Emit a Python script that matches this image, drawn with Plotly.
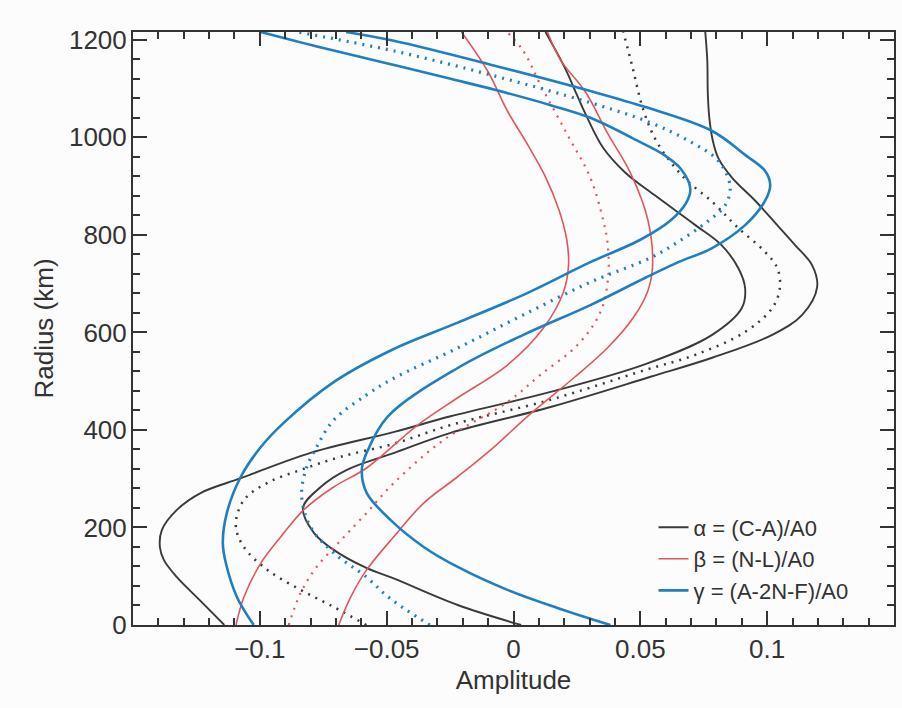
import plotly.graph_objects as go

# ---------------- data ----------------
# alpha = (C-A)/A0 : two bounding curves (solid) and mean (dotted)
alpha_a_x = [-0.114, -0.1235, -0.1327, -0.1378, -0.1394, -0.1386, -0.1327, -0.1232, -0.1075, -0.080, -0.047,
             -0.0248, 0.0146, 0.052, 0.0783, 0.090, 0.0913, 0.0886, 0.082, 0.0717, 0.0560, 0.0440, 0.0354,
             0.0291, 0.0250, 0.0205, 0.0126]
alpha_a_r = [0, 50, 98, 133, 160, 195, 236, 271, 301, 353, 396,
             428, 478, 535, 595, 650, 691, 732, 779, 820, 880, 928, 978,
             1040, 1087, 1140, 1216]

alpha_b_x = [0.003, -0.022, -0.047, -0.058, -0.0709, -0.0787, -0.083, -0.076, -0.0657, -0.047, -0.0248,
             0.0146, 0.054, 0.0783, 0.102, 0.1138, 0.1197, 0.1177, 0.111, 0.1043, 0.0953, 0.0862, 0.0807,
             0.0785, 0.0772, 0.0766, 0.0764, 0.0756]
alpha_b_r = [0, 41, 95, 117, 154, 189, 240, 283, 318, 353, 394,
             447, 509, 548, 595, 636, 693, 738, 779, 818, 870, 917, 958,
             995, 1040, 1090, 1157, 1216]

alpha_m_x = [-0.058, -0.0709, -0.0839, -0.097, -0.1063, -0.1095, -0.1063, -0.0972, -0.0839, -0.068, -0.047,
             -0.0248, 0.0146, 0.052, 0.0717, 0.0913, 0.102, 0.105, 0.104, 0.0992, 0.0882, 0.0787, 0.0669,
             0.0567, 0.0512, 0.0469, 0.0433]
alpha_m_r = [0, 37, 72, 113, 160, 205, 256, 291, 318, 345, 372,
             410, 462, 523, 554, 601, 650, 691, 732, 765, 816, 866, 919,
             989, 1056, 1144, 1216]

# beta = (N-L)/A0
beta_a_x = [-0.1094, -0.1063, -0.0996, -0.0917, -0.0827, -0.0709, -0.0579, -0.0378, -0.022, -0.0024, 0.0118,
            0.0197, 0.0217, 0.0210, 0.0180, 0.0125, 0.0050, -0.0024, -0.0102, -0.0205]
beta_a_r = [0, 57, 127, 181, 236, 283, 322, 410, 466, 533, 609,
            683, 738, 790, 850, 920, 990, 1054, 1136, 1216]

beta_b_x = [-0.0689, -0.0642, -0.0579, -0.0472, -0.0354, -0.022, -0.009, 0.0060, 0.0236, 0.037, 0.0472,
            0.0528, 0.0548, 0.053, 0.046, 0.037, 0.0285, 0.0185, 0.0134]
beta_b_r = [0, 57, 113, 181, 250, 304, 359, 430, 506, 568, 630,
            683, 734, 830, 928, 1009, 1092, 1159, 1216]

beta_m_x = [-0.0886, -0.0839, -0.0776, -0.068, -0.0579, -0.0472, -0.0276, -0.0024, 0.0106, 0.0252, 0.0343,
            0.0374, 0.037, 0.0354, 0.0303, 0.0213, 0.0106, 0.0039, -0.0025]
beta_m_r = [0, 66, 119, 174, 230, 291, 379, 457, 513, 574, 642,
            718, 786, 829, 917, 1005, 1108, 1177, 1216]

# gamma = (A-2N-F)/A0
gamma_a_x = [-0.1024, -0.109, -0.1134, -0.1146, -0.113, -0.1075, -0.0996, -0.0905, -0.0709, -0.0472, -0.022,
             0.0039, 0.0303, 0.050, 0.062, 0.068, 0.0697, 0.066, 0.059, 0.050, 0.0303, 0.0146, -0.007,
             -0.0248, -0.0484, -0.075, -0.0996]
gamma_a_r = [0, 57, 127, 168, 230, 304, 365, 415, 498, 566, 620,
             677, 744, 790, 830, 865, 895, 935, 965, 990, 1040, 1066, 1097,
             1120, 1150, 1183, 1216]

gamma_b_x = [0.0382, 0.0173, -0.0024, -0.022, -0.0354, -0.0484, -0.0579, -0.0598, -0.0579, -0.0495, -0.022,
             0.0039, 0.0303, 0.052, 0.065, 0.0783, 0.0913, 0.0992, 0.1012, 0.0992, 0.0913, 0.0783, 0.052,
             0.0303, -0.009, -0.0472, -0.066]
gamma_b_r = [0, 35, 72, 119, 160, 215, 271, 318, 353, 428, 527,
             595, 656, 712, 744, 773, 820, 870, 902, 931, 964, 1013, 1062,
             1095, 1149, 1198, 1216]

gamma_m_x = [-0.033, -0.042, -0.050, -0.0579, -0.0709, -0.080, -0.0835, -0.0819, -0.0776, -0.0709, -0.0579,
             -0.0472, -0.022, 0.0039, 0.0303, 0.054, 0.065, 0.0768, 0.0835, 0.0854, 0.0807, 0.069, 0.054,
             0.0303, -0.009, -0.047, -0.085]
gamma_m_r = [0, 30, 60, 98, 148, 201, 263, 318, 365, 420, 472,
             506, 568, 636, 703, 753, 786, 829, 861, 900, 952, 993, 1030,
             1071, 1128, 1177, 1216]

legend_names = ["\u03b1 = (C-A)/A0", "\u03b2 = (N-L)/A0", "\u03b3 = (A-2N-F)/A0"]
x_tickvals = [-0.1, -0.05, 0, 0.05, 0.1]
x_ticktext = ["\u22120.1", "\u22120.05", "0", "0.05", "0.1"]
y_tickvals = [0, 200, 400, 600, 800, 1000, 1200]
x_range = [-0.15, 0.15]
y_range = [0, 1216]

# ---------------- styling ----------------
BLACK = "#3a3a3a"
RED = "#e0575a"
BLUE = "#1f7fc2"
AX = "#333333"
FONT = "Liberation Sans, Arial, sans-serif"

groups = [
    (legend_names[0], BLACK, 1.9, [(alpha_a_x, alpha_a_r, "solid"), (alpha_b_x, alpha_b_r, "solid"),
                                   (alpha_m_x, alpha_m_r, "2px,6px")]),
    (legend_names[1], RED, 1.6, [(beta_a_x, beta_a_r, "solid"), (beta_b_x, beta_b_r, "solid"),
                                 (beta_m_x, beta_m_r, "2px,6px")]),
    (legend_names[2], BLUE, 2.6, [(gamma_a_x, gamma_a_r, "solid"), (gamma_b_x, gamma_b_r, "solid"),
                                  (gamma_m_x, gamma_m_r, "2px,6px")]),
]

fig = go.Figure()
for name, color, width, curves in groups:
    for i, (xs, rs, dash) in enumerate(curves):
        w = width if dash == "solid" else width + 0.6
        fig.add_trace(go.Scatter(
            x=xs, y=rs, mode="lines", name=name, legendgroup=name,
            showlegend=(i == 0),
            line=dict(color=color, width=w, dash=dash, shape="spline", smoothing=1.0),
            hoverinfo="skip",
        ))

axis_common = dict(
    showline=True, linecolor=AX, linewidth=2, mirror="ticks",
    ticks="inside", ticklen=14, tickwidth=2, tickcolor=AX,
    showgrid=False, zeroline=False,
    tickfont=dict(family=FONT, size=26, color=AX),
)

fig.update_xaxes(
    range=x_range, tickmode="array", tickvals=x_tickvals, ticktext=x_ticktext,
    minor=dict(ticks="inside", ticklen=7, tickwidth=1.5, tickcolor=AX, dtick=0.01, tick0=0, showgrid=False),
    title=dict(text="Amplitude", font=dict(family=FONT, size=26, color=AX), standoff=8),
    ticklabelstandoff=0,
    **axis_common,
)
fig.update_yaxes(
    range=y_range, tickmode="array", tickvals=y_tickvals,
    minor=dict(ticks="inside", ticklen=7, tickwidth=1.5, tickcolor=AX, dtick=40, tick0=0, showgrid=False),
    title=dict(text="Radius (km)", font=dict(family=FONT, size=26, color=AX), standoff=8),
    ticklabelstandoff=-1,
    **axis_common,
)

fig.update_layout(
    width=902, height=708,
    margin=dict(l=133, r=6, t=32, b=83),
    paper_bgcolor="#fcfcfc", plot_bgcolor="#fcfcfc",
    font=dict(family=FONT, color=AX),
    legend=dict(x=0.684, y=0.2, xanchor="left", yanchor="top",
                bgcolor="rgba(0,0,0,0)", font=dict(family=FONT, size=22, color=AX),
                tracegroupgap=0, itemwidth=30),
    showlegend=True,
)

fig.write_html("out.html")
